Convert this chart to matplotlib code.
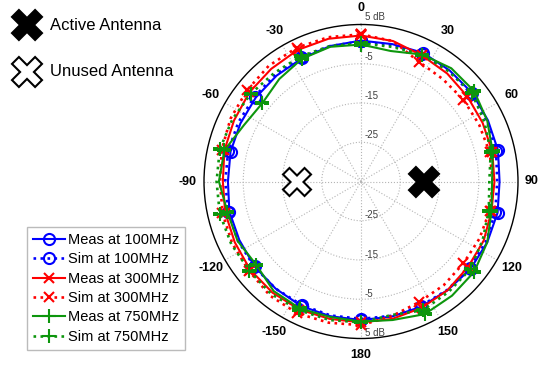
import numpy as np
import matplotlib
matplotlib.use('Agg')
import matplotlib.pyplot as plt
from matplotlib.patches import Polygon
from matplotlib import transforms

plt.rcParams['font.family'] = ['Liberation Sans', 'DejaVu Sans']

# ---------------- data (dB), samples every 360/28 degrees, clockwise from top
n_samples = 28
meas_100 = [0.9, 0.9, 1.4, 1.2, 1.2, 0.9, 0.8, 0.3, 0.7, 0.7, 0.7, 0.4, 0.4, 0.3,
            0.3, 0.2, 0.2, -0.1, -0.3, -0.6, -0.6, -1.1, -0.9, -0.9, -0.7, -0.5, -0.2, 0.4]
sim_100 = [0.7, 0.6, 1.0, 1.0, 0.9, 0.6, 0.3, -0.3, 0.1, 0.3, 0.4, 0.3, 0.2, 0.1,
           0.0, 0.0, -0.1, -0.1, -0.2, -0.2, -0.3, -0.4, -0.3, -0.3, -0.3, -0.1, 0.1, 0.4]
meas_300 = [2.2, 1.7, 0.7, 0.2, -0.3, -0.6, -0.7, -1.0, -0.9, -0.3, -0.1, 0.4, 0.7, 0.9,
            0.9, 0.9, 1.2, 1.2, 1.1, 0.7, 0.5, 0.2, 0.7, 0.9, 1.4, 1.7, 2.2, 2.3]
sim_300 = [2.5, 1.7, -1.1, -1.6, -1.6, -1.6, -1.4, -1.4, -1.4, -1.5, -1.6, -1.2, -0.9, 0.2,
           1.6, 1.9, 2.3, 2.2, 1.5, 1.4, 1.2, 0.9, 1.4, 1.9, 2.2, 2.7, 2.8, 2.7]
meas_750 = [-0.1, -0.9, 0.9, 1.9, 1.9, 0.7, -0.6, -1.6, -0.9, 0.7, 1.9, 2.2, 2.5, 1.2,
            0.7, 0.4, 0.9, 0.7, -0.9, -0.1, -0.1, 1.2, 0.7, -1.9, -2.9, -1.6, -0.3, 0.2]
sim_750 = [0.2, 0.2, 0.9, 0.9, 1.2, -0.1, -1.1, -2.3, -1.6, -0.6, 0.7, 0.9, 1.4, -0.1,
           0.9, 1.2, 1.4, 1.7, 1.4, 1.7, 1.9, 1.8, 1.9, 1.4, 0.9, 0.4, 0.4, 0.4]

series_labels = ['Meas at 100MHz', 'Sim at 100MHz', 'Meas at 300MHz',
                 'Sim at 300MHz', 'Meas at 750MHz', 'Sim at 750MHz']
theta_tick_labels = ['0', '30', '60', '90', '120', '150', '180',
                     '-150', '-120', '-90', '-60', '-30']
r_ticks = [5, -5, -15, -25]
r_tick_labels = ['5 dB', '-5', '-15', '-25']

# ---------------- figure
W, H = 539, 365
fig = plt.figure(figsize=(W / 100, H / 100), dpi=100)
cx, cy, R = 361, 181.5, 157
ax = fig.add_axes([(cx - R) / W, (H - cy - R) / H, 2 * R / W, 2 * R / H],
                  projection='polar')
ax.set_theta_zero_location('N')
ax.set_theta_direction(-1)
ax.set_ylim(-35, 5)

theta = np.deg2rad(np.arange(n_samples) * 360 / n_samples)
theta_c = np.append(theta, theta[0])

blue, red, green = '#0000ff', '#ff0000', '#0d960d'
styles = [
    (meas_100, blue, '-', 'o', 8),
    (sim_100, blue, ':', 'o', 8),
    (meas_300, red, '-', 'x', 7),
    (sim_300, red, ':', 'x', 7),
    (meas_750, green, '-', '+', 10),
    (sim_750, green, ':', '+', 10),
]
handles = []
for (vals, col, ls, mk, ms), lab in zip(styles, series_labels):
    v = np.append(vals, vals[0])
    lw = 1.5 if ls == '-' else 1.9
    h, = ax.plot(theta_c, v, color=col, linestyle=ls, linewidth=lw, marker=mk,
                 markersize=ms, markerfacecolor='none', markeredgewidth=1.5,
                 markevery=2, label=lab, zorder=3)
    handles.append(h)

# the "90" label is drawn separately so that it stays inside the picture
shown_labels = [t if t != '90' else '' for t in theta_tick_labels]
ax.set_xticks(np.deg2rad(np.arange(0, 360, 30)))
ax.set_xticklabels(shown_labels, fontweight='bold', fontsize=9)
ax.tick_params(axis='x', pad=1.5)
fig.text(538.5 / W, 1 - 181.5 / H, '90', fontweight='bold', fontsize=9,
         ha='right', va='center')
ax.set_yticks([-25, -15, -5])
ax.set_yticklabels([])
ax.grid(True, color='#b5b5b5', linestyle=':', linewidth=0.8)
ax.spines['polar'].set_color('black')
ax.spines['polar'].set_linewidth(1.0)

trans_top = transforms.offset_copy(ax.transData, fig=fig, x=4, y=2, units='dots')
trans_bot = transforms.offset_copy(ax.transData, fig=fig, x=4, y=0.5, units='dots')
for r, lab in zip(r_ticks, r_tick_labels):
    ax.text(0, r, lab, transform=trans_top, ha='left', va='bottom', fontsize=7,
            color='#404040', zorder=4)
    ax.text(np.pi, r, lab, transform=trans_bot, ha='left', va='bottom', fontsize=7,
            color='#404040', zorder=4)

fig.legend(handles, series_labels, loc='upper left',
           bbox_to_anchor=(27 / W, 1 - 227 / H), fontsize=10.5, frameon=True,
           fancybox=False, edgecolor='#aaaaaa', handlelength=2.2,
           handletextpad=0.2, labelspacing=0.37, borderpad=0.4,
           borderaxespad=0, numpoints=1)


def cross(px, py, size, face):
    L = size / 2 * np.sqrt(2) / 1.3
    w = 0.3 * L
    pts = np.array([(w, w), (w, L), (-w, L), (-w, w), (-L, w), (-L, -w),
                    (-w, -w), (-w, -L), (w, -L), (w, -w), (L, -w), (L, w)])
    c, s = np.cos(np.pi / 4), np.sin(np.pi / 4)
    rot = pts @ np.array([[c, s], [-s, c]])
    xs = (px + rot[:, 0]) / W
    ys = 1 - (py + rot[:, 1]) / H
    poly = Polygon(np.column_stack([xs, ys]), closed=True, transform=fig.transFigure,
                   facecolor=face, edgecolor='black', linewidth=1.5, zorder=5)
    fig.add_artist(poly)


cross(27, 25, 30, 'black')
cross(27, 72, 30, 'white')
fig.text(50 / W, 1 - 25 / H, 'Active Antenna', fontsize=12, ha='left', va='center')
fig.text(50 / W, 1 - 72 / H, 'Unused Antenna', fontsize=12, ha='left', va='center')
cross(424, 182, 30, 'black')
cross(297, 182, 28, 'white')

fig.savefig('out.png', dpi=100)
